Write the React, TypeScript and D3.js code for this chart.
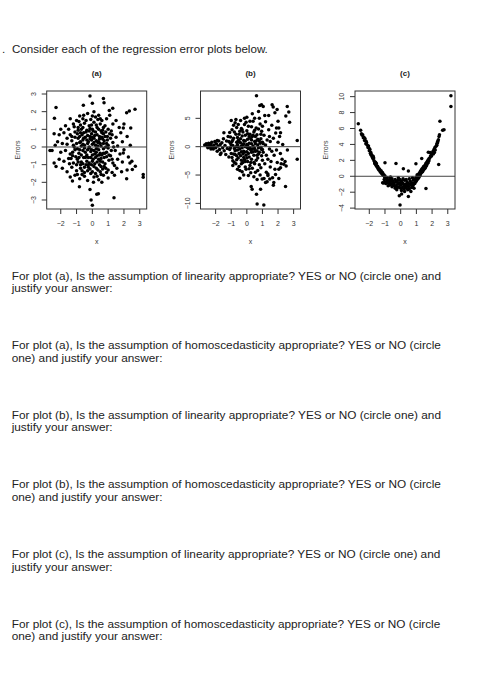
import * as d3 from "d3";

type Pt = [number, number];

// plot (a): errors scattered evenly around zero
const aPoints: Pt[] = [
  // outliers
  [-0.15, 2.88], [0.7, 2.75], [0.74, 2.5], [-0.57, 2.36], [0.0, 2.47], [-2.3, 2.24],
  [-2.4, 1.63], [-2.42, 0.75], [-2.68, -0.2], [-2.55, -0.2], [-2.42, -0.9], [1.29, 2.19],
  [1.07, 2.06], [2.17, 1.94], [2.34, 2.04], [2.7, 2.13], [2.43, 1.07], [1.96, 1.07],
  [3.22, -1.56], [3.22, -1.71], [2.17, -1.8], [2.53, -1.27], [2.72, -1.09], [2.38, -0.9],
  [2.28, -0.57], [1.96, -0.34], [0.0, -3.3], [-0.08, -3.0], [-0.15, -2.4], [0.28, -2.68],
  [0.38, -2.64], [1.37, -2.87], [-1.26, -1.93], [-0.82, -2.25], [0.07, -2.0], [0.6, -2.0],
  // y 2.0 .. 1.5
  [-0.3, 1.9], [0.1, 2.0], [0.4, 1.8], [-0.6, 1.6], [0.2, 1.7], [-0.1, 1.55], [0.9, 1.6],
  [-1.0, 1.5], [0.6, 1.5], [1.1, 1.8], [-1.4, 1.6], [1.5, 1.5], [-0.8, 1.75], [0.0, 1.75],
  // y 1.4 .. 1.0
  [-1.7, 1.2], [-1.2, 1.3], [-0.9, 1.1], [-0.5, 1.35], [-0.2, 1.2], [0.1, 1.4], [0.3, 1.1],
  [0.5, 1.3], [0.8, 1.2], [1.0, 1.0], [1.3, 1.3], [1.7, 1.1], [-1.5, 1.0], [-0.7, 1.0],
  [0.0, 1.0], [0.65, 0.95], [-0.35, 0.95], [1.2, 0.9], [2.0, 1.3], [-2.0, 1.0],
  // y 0.9 .. 0.5
  [-2.1, 0.7], [-1.8, 0.8], [-1.4, 0.7], [-1.1, 0.85], [-0.8, 0.6], [-0.55, 0.8], [-0.3, 0.65],
  [-0.05, 0.75], [0.2, 0.85], [0.45, 0.6], [0.7, 0.75], [0.95, 0.6], [1.25, 0.7], [1.5, 0.55],
  [1.8, 0.8], [-1.6, 0.5], [-0.9, 0.5], [0.1, 0.5], [0.55, 0.9], [-0.15, 0.45], [2.2, 0.6],
  // y 0.4 .. 0
  [-2.2, 0.3], [-1.9, 0.2], [-1.6, 0.15], [-1.3, 0.35], [-1.0, 0.2], [-0.75, 0.3], [-0.5, 0.1],
  [-0.25, 0.3], [0.0, 0.15], [0.25, 0.35], [0.5, 0.2], [0.75, 0.35], [1.0, 0.1], [1.3, 0.25],
  [1.6, 0.05], [1.9, 0.3], [-0.6, 0.4], [0.35, 0.05], [-1.15, 0.0], [0.85, 0.0], [-2.35, 0.1],
  [2.4, 0.1],
  // y -0.1 .. -0.5
  [-2.0, -0.3], [-1.7, -0.2], [-1.4, -0.4], [-1.1, -0.15], [-0.85, -0.35], [-0.6, -0.2],
  [-0.35, -0.45], [-0.1, -0.25], [0.15, -0.4], [0.4, -0.15], [0.6, -0.45], [0.9, -0.3],
  [1.15, -0.5], [1.45, -0.2], [1.75, -0.4], [2.0, -0.15], [-0.2, -0.05], [0.7, -0.1],
  [-1.25, -0.5], [0.3, -0.5],
  // y -0.6 .. -1.0
  [-2.1, -0.7], [-1.8, -0.8], [-1.5, -0.65], [-1.2, -0.9], [-0.95, -0.7], [-0.7, -0.85],
  [-0.45, -0.6], [-0.2, -0.9], [0.05, -0.7], [0.3, -0.85], [0.55, -0.65], [0.8, -0.95],
  [1.05, -0.75], [1.3, -0.9], [1.6, -0.7], [1.9, -0.85], [-0.05, -1.0], [0.45, -1.0],
  [-1.0, -1.0], [2.5, -0.8],
  // y -1.1 .. -1.5
  [-1.9, -1.2], [-1.6, -1.4], [-1.3, -1.15], [-1.0, -1.35], [-0.75, -1.2], [-0.5, -1.45],
  [-0.25, -1.15], [0.0, -1.4], [0.25, -1.2], [0.5, -1.4], [0.75, -1.1], [1.0, -1.3],
  [1.25, -1.45], [1.55, -1.2], [1.85, -1.4], [2.2, -1.3], [-2.3, -1.1],
  // y -1.5 .. -2.0
  [-1.4, -1.7], [-1.1, -1.6], [-0.8, -1.8], [-0.5, -1.65], [-0.3, -1.9], [0.1, -1.7],
  [0.4, -1.85], [0.7, -1.6], [1.0, -1.75], [1.4, -1.6], [-0.65, -1.55], [0.55, -1.55],
  // dense core
  [-0.9, 0.95], [-0.65, 0.7], [-0.4, 0.85], [-0.15, 0.6], [0.05, 0.9], [0.3, 0.7], [0.6, 0.55],
  [0.85, 0.85], [-0.8, 0.25], [-0.55, 0.5], [-0.3, 0.2], [-0.05, 0.4], [0.2, 0.1], [0.45, 0.45],
  [0.7, 0.2], [0.95, 0.4], [-0.95, -0.1], [-0.7, -0.45], [-0.45, -0.3], [-0.25, -0.6],
  [0.0, -0.45], [0.25, -0.1], [0.5, -0.35], [0.75, -0.6], [1.0, -0.05], [-0.85, -0.6],
  [-0.6, -0.95], [-0.35, -0.8], [-0.1, -0.6], [0.15, -0.95], [0.4, -0.7], [0.65, -0.85],
  [0.9, -0.55], [-0.5, -1.15], [-0.15, -1.25], [0.1, -1.1], [0.35, -1.3], [0.65, -1.25],
  [-0.75, -1.0], [-1.1, 0.55], [-1.25, -0.3], [1.15, 0.5], [1.2, -0.2], [-0.4, 1.5],
  [0.35, 1.55], [-0.2, 0.0], [0.1, -0.2], [-0.5, -0.05], [0.55, 0.05], [-0.7, 0.05],
  [0.8, 0.6], [-1.3, 0.6], [-1.45, -0.95], [1.4, -1.05], [-0.05, 1.25], [0.7, 1.1],
  [-0.75, 1.25], [0.2, -1.5], [-0.3, -1.35], [0.9, -1.45],
  [-1.15, 1.15], [-0.95, 0.75], [-0.6, 1.1], [-0.45, 0.55], [-0.2, 0.9], [0.15, 0.65],
  [0.4, 1.0], [0.6, 0.8], [0.9, 0.2], [-1.05, -0.55], [-0.8, -0.15], [-0.55, -0.6],
  [-0.3, -0.15], [-0.05, -0.15], [0.2, -0.6], [0.45, -0.45], [0.8, -0.35], [1.05, -0.45],
  [-0.9, -0.85], [-0.4, -1.0], [0.0, -0.8], [0.25, -0.3], [0.55, -1.1], [0.85, -1.2],
  [-0.65, -1.35], [-0.95, -1.55], [-0.35, 0.4], [-0.6, 0.15], [0.1, 0.25], [0.35, 0.25],
  [0.65, 0.45], [-0.15, 1.05], [0.25, 1.25], [0.5, 1.6], [-0.55, 1.8], [-1.2, 0.1],
  [-1.35, -0.65], [1.1, 0.75], [1.35, 0.0], [1.25, -0.7], [-0.25, -1.0], [0.5, -0.8],
  [-0.75, 0.8], [0.0, 0.55], [0.4, 0.3], [-0.4, -0.55], [0.7, -0.35], [-0.1, -1.5],
  [0.3, -1.65], [-0.85, 1.45],
];

// plot (b): spread widening to the right
const bPoints: Pt[] = [
  // outliers
  [0.62, 9.0], [0.83, 7.25], [0.94, 7.4], [1.05, 7.1], [1.62, 7.4], [1.69, 7.0], [1.94, 6.55],
  [2.59, 7.1], [2.69, 6.1], [2.74, 4.3], [2.05, 3.3], [2.16, 2.45], [3.23, 1.1], [3.23, -2.2],
  [-0.45, -5.55], [0.66, -10.1], [1.09, -10.3], [0.62, -8.4], [0.34, -7.5], [0.28, -7.0],
  [2.48, -7.0], [1.73, -6.3], [1.47, -5.7], [1.35, -5.1], [2.26, -2.2], [2.37, -3.1],
  [2.52, -3.4], [2.16, -3.7], [2.05, -4.0], [1.84, -4.9], [0.88, -7.5], [0.98, -5.7],
  [1.2, -6.3], [2.3, 0.4], [2.45, -2.6], [2.6, -0.6], [2.5, 5.4],
  // left tail
  [-2.7, 0.3], [-2.6, 0.5], [-2.55, 0.1], [-2.45, 0.6], [-2.4, 0.2], [-2.35, -0.1], [-2.3, 0.4],
  [-2.25, 0.8], [-2.2, 0.0], [-2.15, -0.4], [-2.1, 0.3], [-2.05, 0.9], [-2.0, -0.2], [-1.95, 0.5],
  [-1.9, -0.8], [-1.85, 0.1], [-1.8, 1.0], [-1.75, -0.5], [-1.7, 0.4], [-1.65, -1.1], [-1.6, 0.7],
  [-1.55, -0.2], [-1.5, 1.4], [-1.45, -0.7], [-1.4, 0.2], [-1.35, -1.4], [-1.3, 1.0],
  [-1.25, -0.3], [-1.2, 1.8], [-1.15, -1.8], [-2.5, -0.2], [-2.3, -0.4], [-1.9, 1.1],
  [-1.7, -1.4], [-1.47, 2.45],
  // x -1.1 .. -0.8
  [-1.1, 2.5], [-1.05, 0.6], [-1.0, -1.2], [-0.95, 3.0], [-0.9, -2.5], [-0.85, 1.5], [-0.8, -0.3],
  [-1.0, 4.6], [-0.9, -3.3], [-1.1, -0.5], [-0.85, 3.8], [-0.95, -1.9], [-1.05, 1.7],
  [-0.8, -2.8], [-0.9, 0.2],
  // x -0.75 .. -0.45
  [-0.75, 4.2], [-0.7, 2.2], [-0.65, 0.8], [-0.6, -0.6], [-0.55, -2.0], [-0.5, -3.5],
  [-0.75, -1.4], [-0.7, -3.0], [-0.65, 3.4], [-0.6, 1.6], [-0.55, 0.0], [-0.5, -1.2],
  [-0.45, 2.7], [-0.45, -4.2], [-0.7, 4.8], [-0.6, -4.0], [-0.5, 0.9], [-0.55, 3.9],
  // x -0.4 .. -0.1
  [-0.4, 4.6], [-0.35, 3.2], [-0.3, 1.9], [-0.25, 0.4], [-0.2, -0.8], [-0.15, -2.3], [-0.1, -3.6],
  [-0.4, -1.6], [-0.35, -3.0], [-0.3, -4.4], [-0.25, 2.6], [-0.2, 1.1], [-0.15, 3.9], [-0.1, 0.0],
  [-0.4, 0.7], [-0.3, -0.2], [-0.2, -5.0], [-0.15, 5.0], [-0.35, -2.4], [-0.1, 2.0], [-0.25, -1.3],
  // x -0.05 .. 0.25
  [-0.05, 4.3], [0.0, 2.8], [0.05, 1.3], [0.1, -0.3], [0.15, -1.8], [0.2, -3.3], [0.25, -4.6],
  [0.0, -0.9], [0.05, -2.6], [0.1, 3.6], [0.15, 0.6], [0.2, 2.2], [0.25, -0.6], [-0.05, -4.0],
  [0.0, 5.2], [0.1, -5.1], [0.05, 0.2], [0.2, 4.5], [0.15, -3.9], [0.25, 1.4], [0.0, -2.0],
  // x 0.3 .. 0.6
  [0.3, 3.5], [0.35, 1.8], [0.4, 0.1], [0.45, -1.5], [0.5, -3.0], [0.55, -4.5], [0.3, -2.2],
  [0.35, -3.8], [0.4, 4.5], [0.45, 2.6], [0.5, 0.9], [0.55, -0.8], [0.6, 3.3], [0.6, -2.4],
  [0.3, 0.5], [0.45, -5.3], [0.35, 5.8], [0.5, 5.0], [0.55, 1.8], [0.4, -0.9],
  // x 0.65 .. 1.0
  [0.65, 2.1], [0.7, 0.3], [0.75, -1.3], [0.8, -3.2], [0.85, 4.0], [0.9, 1.4], [0.95, -0.5],
  [1.0, -2.4], [0.7, -4.2], [0.75, 3.1], [0.8, 5.0], [0.85, -5.0], [0.9, -0.1], [0.95, 2.7],
  [0.7, -2.0], [1.0, 3.6], [0.65, -0.7], [0.8, 1.0], [0.9, -3.7], [1.0, 0.8], [0.66, -5.8],
  [0.75, 6.2],
  // x 1.05 .. 1.5
  [1.05, -1.0], [1.1, 2.0], [1.15, -3.0], [1.2, 4.4], [1.25, -4.5], [1.3, 1.2], [1.35, -2.2],
  [1.4, 3.0], [1.45, -0.4], [1.5, -3.6], [1.1, -5.6], [1.2, 0.3], [1.3, -6.2], [1.4, 5.5],
  [1.15, 5.5], [1.45, 1.8], [1.25, -1.5], [1.35, -4.8], [1.05, 0.5], [1.5, 0.9],
  // x 1.55 .. 2.2
  [1.55, -2.6], [1.6, 3.8], [1.65, -5.5], [1.7, 1.5], [1.75, -1.5], [1.8, -4.0], [1.85, 2.4],
  [1.9, -0.6], [1.95, -2.8], [2.0, 0.8], [2.05, -5.6], [2.1, 1.8], [2.15, -1.2], [1.6, -0.8],
  [1.8, 6.0], [2.0, 4.5], [2.2, -3.0], [1.7, -6.8], [1.9, 3.3],
  // dense core
  [-1.0, 0.3], [-0.9, 1.2], [-0.8, 2.6], [-0.75, -0.7], [-0.65, -2.3], [-0.6, 0.4], [-0.5, 2.2],
  [-0.45, -0.4], [-0.4, 1.4], [-0.35, -0.9], [-0.3, 3.0], [-0.25, -2.8], [-0.2, 0.5],
  [-0.15, -1.0], [-0.1, 1.0], [-0.05, -1.5], [0.0, 0.4], [0.05, 2.3], [0.1, -1.2], [0.15, 1.8],
  [0.2, -0.2], [0.25, -2.8], [0.3, 1.2], [0.35, -0.4], [0.4, 2.0], [0.45, -2.8], [0.5, -0.3],
  [0.55, 0.5], [0.6, 1.0], [0.65, -1.5], [0.7, 1.3], [0.75, -0.2], [0.8, -1.0], [0.85, 0.6],
  [0.9, 2.2], [0.95, -1.6], [1.0, -0.5], [-0.85, -1.3], [-0.7, 0.0], [-0.55, 1.1], [-0.35, 0.1],
  [-0.2, -1.9], [0.05, -0.2], [0.3, -1.0], [0.5, 2.9], [-0.95, 0.9], [-1.15, 0.9],
  [-1.05, -0.2], [-0.65, -1.6], [-0.1, -2.6],
];

// plot (c): curved (U-shaped) errors
const cPoints: Pt[] = [
  // left arm
  [-2.7, 6.6], [-2.55, 5.77], [-2.5, 5.35], [-2.45, 5.15], [-2.42, 5.2], [-2.38, 4.85],
  [-2.34, 4.9], [-2.3, 4.5], [-2.27, 4.7], [-2.22, 4.1], [-2.17, 4.2], [-2.12, 3.9],
  [-2.08, 3.6], [-2.05, 3.8], [-2.0, 3.2], [-1.96, 3.36], [-1.93, 2.9], [-1.9, 3.0],
  [-1.85, 2.7], [-1.82, 2.5], [-1.8, 2.35], [-1.76, 2.2], [-1.72, 2.3], [-1.7, 1.95],
  [-1.66, 1.8], [-1.63, 1.6], [-1.6, 1.75], [-1.57, 1.4], [-1.54, 1.3], [-1.5, 1.15],
  [-1.47, 1.25], [-1.44, 0.95], [-1.4, 0.9], [-1.37, 0.75], [-1.33, 0.8], [-1.3, 0.55],
  [-1.27, 0.6], [-1.23, 0.4], [-1.2, 0.5], [-1.17, 0.25], [-1.14, 0.3], [-1.1, 0.1],
  [-1.07, 0.2], [-1.03, -0.05], [-1.0, 0.05], [-2.2, 4.4], [-2.0, 3.5], [-1.9, 2.7],
  [-1.75, 2.5], [-1.65, 1.6], [-1.55, 1.6], [-1.45, 1.1], [-1.35, 0.9], [-1.25, 0.7],
  [-1.15, 0.45], [-1.15, -0.8], [-1.1, -0.85],
  // bottom band
  [-1.0, -0.7], [-0.95, -0.3], [-0.9, -0.8], [-0.85, -0.2], [-0.8, -0.5], [-0.75, -0.9],
  [-0.7, -0.4], [-0.65, -0.7], [-0.6, -1.0], [-0.55, -0.3], [-0.5, -0.6], [-0.45, -1.1],
  [-0.4, -0.8], [-0.35, -0.4], [-0.3, -1.2], [-0.25, -0.7], [-0.2, -1.0], [-0.15, -0.5],
  [-0.1, -1.3], [-0.05, -0.8], [0.0, -1.1], [0.05, -0.6], [0.1, -1.4], [0.15, -0.9],
  [0.2, -1.2], [0.25, -0.5], [0.3, -1.0], [0.35, -1.5], [0.4, -0.7], [0.45, -1.2],
  [0.5, -0.9], [0.55, -1.6], [0.6, -0.6], [0.65, -1.1], [0.7, -0.8], [0.75, -1.3],
  [0.8, -0.5], [0.85, -0.9], [0.9, -0.3], [0.95, -0.7], [1.0, -0.1], [1.05, -0.4],
  [1.1, 0.1], [1.15, -0.2], [1.2, 0.4], [-0.95, -0.9], [-0.85, -0.6], [-0.7, -1.1],
  [-0.6, -0.4], [-0.5, -0.9], [-0.4, -1.2], [-0.3, -0.6], [-0.2, -1.4], [-0.1, -0.9],
  [0.0, -1.5], [0.1, -0.8], [0.2, -1.6], [0.3, -1.3], [0.4, -1.0], [0.5, -1.3], [0.6, -1.0],
  [0.7, -1.4], [0.8, -1.1], [0.9, -0.9], [1.0, -0.6], [1.1, -0.3], [-0.55, -1.3],
  [-0.15, -0.2], [0.25, -1.9], [0.45, -1.7], [0.65, -1.9], [-0.25, -1.7], [0.15, -0.3],
  [0.55, -0.3], [-0.05, -0.4], [0.35, -0.4], [0.75, -0.2], [-0.8, -1.2], [-0.65, -0.1],
  [-1.05, -0.4], [-0.35, -1.5], [0.05, -1.8], [0.85, -1.5],
  // stray points
  [-0.04, -3.6], [-0.09, -2.45], [0.06, -2.24], [0.49, -2.53], [1.61, -1.54], [-1.0, 1.7],
  [-0.3, 1.62], [0.17, 0.95], [0.49, 0.66], [0.97, 1.58], [1.34, 2.24], [2.42, 1.49],
  [1.76, 3.03],
  // right arm
  [1.25, 0.6], [1.3, 0.75], [1.35, 0.9], [1.4, 1.0], [1.45, 1.2], [1.5, 1.25], [1.55, 1.4],
  [1.6, 1.6], [1.65, 1.7], [1.7, 1.9], [1.75, 2.05], [1.8, 2.2], [1.87, 3.0], [1.9, 2.55],
  [1.97, 2.74], [2.0, 2.9], [2.05, 3.1], [2.12, 3.36], [2.18, 3.6], [2.25, 3.78], [2.3, 4.1],
  [2.36, 4.4], [2.4, 4.6], [2.44, 5.0], [2.47, 5.2], [2.5, 6.9], [2.67, 5.77], [2.76, 5.85],
  [3.2, 10.1], [3.2, 8.75], [1.2, 0.0], [1.25, 0.2], [1.3, 0.4], [1.35, 0.5], [1.4, 0.6],
  [1.45, 0.8], [1.5, 0.9], [1.55, 1.0], [1.6, 1.2], [1.05, 0.2], [1.15, 0.3], [1.7, 1.6],
  [1.8, 1.95], [2.08, 2.8], [2.15, 3.0], [1.65, 1.35], [1.75, 1.7], [1.85, 2.3], [1.95, 2.5],
  [2.2, 3.3], [2.3, 3.9], [2.35, 4.2], [1.5, 1.05], [1.4, 0.8], [1.3, 0.6], [1.1, -0.1],
];

const xTicks = [-2, -1, 0, 1, 2, 3];
const aYTicks = [-3, -2, -1, 0, 1, 2, 3];
const bYTicks = [-10, -5, 0, 5];
const cYTicks = [-4, -2, 0, 2, 4, 6, 8, 10];
const panelTitles = ["(a)", "(b)", "(c)"];

const heading = "Consider each of the regression error plots below.";
const questions: string[][] = [
  ["For plot (a), Is the assumption of linearity appropriate? YES or NO (circle one) and", "justify your answer:"],
  ["For plot (a), Is the assumption of homoscedasticity appropriate? YES or NO (circle", "one) and justify your answer:"],
  ["For plot (b), Is the assumption of linearity appropriate? YES or NO (circle one) and", "justify your answer:"],
  ["For plot (b), Is the assumption of homoscedasticity appropriate? YES or NO (circle", "one) and justify your answer:"],
  ["For plot (c), Is the assumption of linearity appropriate? YES or NO (circle one) and", "justify your answer:"],
  ["For plot (c), Is the assumption of homoscedasticity appropriate? YES or NO (circle", "one) and justify your answer:"],
];

const FONT = "'Liberation Sans', Arial, Helvetica, sans-serif";

type PanelProps = {
  title: string;
  points: Pt[];
  left: number;
  xDomain: [number, number];
  yDomain: [number, number];
  yTicks: number[];
};

const TOP = 91;
const BOTTOM = 209;
const W = 100;

function Panel({ title, points, left, xDomain, yDomain, yTicks }: PanelProps) {
  const x = d3.scaleLinear().domain(xDomain).range([left, left + W]);
  const y = d3.scaleLinear().domain(yDomain).range([BOTTOM, TOP]);
  const fmt = (v: number) => (v < 0 ? "\u2212" + Math.abs(v) : String(v));
  const cx = left + W / 2;
  return (
    <g fontFamily={FONT}>
      <text x={cx} y={76} textAnchor="middle" fontSize={8} fontWeight="bold" fill="#222">
        {title}
      </text>
      {points.map((p, i) => (
        <circle key={i} cx={x(p[0])} cy={y(p[1])} r={1.75} fill="#000" />
      ))}
      <line x1={left} x2={left + W} y1={y(0)} y2={y(0)} stroke="#444" strokeWidth={1} />
      <rect x={left} y={TOP} width={W} height={BOTTOM - TOP} fill="none" stroke="#333" strokeWidth={1} />
      {xTicks.map((t) => (
        <g key={t}>
          <line x1={x(t)} x2={x(t)} y1={BOTTOM} y2={BOTTOM + 5} stroke="#333" />
          <text x={x(t)} y={225.5} textAnchor="middle" fontSize={7} fill="#333">
            {fmt(t)}
          </text>
        </g>
      ))}
      {yTicks.map((t) => (
        <g key={t}>
          <line x1={left - 5} x2={left} y1={y(t)} y2={y(t)} stroke="#333" />
          <text
            transform={`translate(${left - 11},${y(t)}) rotate(-90)`}
            textAnchor="middle"
            fontSize={7}
            fill="#333"
          >
            {fmt(t)}
          </text>
        </g>
      ))}
      <text x={cx} y={243.5} textAnchor="middle" fontSize={7} fill="#333">
        x
      </text>
      <text
        transform={`translate(${left - 27},${150}) rotate(-90)`}
        textAnchor="middle"
        fontSize={7}
        fill="#444"
      >
        Errors
      </text>
    </g>
  );
}

export default function App() {
  return (
    <svg
      width={493}
      height={700}
      style={{ position: "absolute", left: 0, top: 0, background: "#fff" }}
    >
      <rect width={493} height={700} fill="#fff" />
      <text x={2} y={53} fontFamily={FONT} fontSize={11.6} fill="#222">
        .
      </text>
      <text x={12} y={53} fontFamily={FONT} fontSize={11.6} fill="#222">
        {heading}
      </text>
      <Panel title={panelTitles[0]} points={aPoints} left={46.7} xDomain={[-2.89, 3.44]} yDomain={[-3.51, 3.17]} yTicks={aYTicks} />
      <Panel title={panelTitles[1]} points={bPoints} left={200.5} xDomain={[-2.97, 3.44]} yDomain={[-10.99, 9.82]} yTicks={bYTicks} />
      <Panel title={panelTitles[2]} points={cPoints} left={355} xDomain={[-2.91, 3.46]} yDomain={[-4.11, 10.71]} yTicks={cYTicks} />
      {questions.map((q, i) => (
        <text key={i} fontFamily={FONT} fontSize={11.8} fill="#222">
          {q.map((line, j) => (
            <tspan key={j} x={11.7} y={279.5 + i * 69.6 + j * 12.7}>
              {line}
            </tspan>
          ))}
        </text>
      ))}
    </svg>
  );
}
